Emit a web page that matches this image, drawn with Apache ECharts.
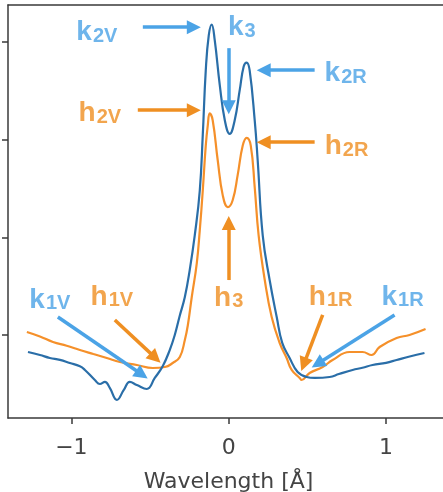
<!DOCTYPE html>
<html>
<head>
<meta charset="utf-8">
<script src="https://cdn.jsdelivr.net/npm/echarts@6/dist/echarts.min.js"></script>
<style>
  html, body { margin: 0; padding: 0; background: #fff; overflow: hidden; }
  #chart { width: 443px; height: 492px; }
</style>
</head>
<body>
<div id="chart"></div>
<script>
// Ca II k line profile (wavelength offset in Å, intensity in arbitrary units)
const kWavelength = [-1.276, -1.200, -1.137, -1.073, -1.010, -0.946, -0.914, -0.851, -0.819, -0.787,
  -0.756, -0.711, -0.667, -0.629, -0.584, -0.521, -0.470, -0.419, -0.375, -0.343,
  -0.311, -0.279, -0.248, -0.216, -0.184, -0.165, -0.146, -0.127, -0.108, -0.089,
  -0.057, -0.025, 0.006, 0.038, 0.070, 0.095, 0.114, 0.133, 0.165, 0.184,
  0.216, 0.260, 0.305, 0.340, 0.387, 0.438, 0.495, 0.546, 0.641, 0.700,
  0.787, 0.850, 0.914, 1.000, 1.067, 1.150, 1.244];
const kIntensity = [0.826, 0.795, 0.765, 0.745, 0.713, 0.680, 0.642, 0.539, 0.498, 0.519,
  0.458, 0.335, 0.437, 0.519, 0.488, 0.447, 0.560, 0.683, 0.846, 1.000,
  1.200, 1.389, 1.665, 2.020, 2.480, 3.050, 3.710, 4.070, 4.180, 4.020,
  3.560, 3.200, 3.060, 3.200, 3.510, 3.750, 3.790, 3.710, 3.200, 2.790,
  2.020, 1.563, 1.184, 0.920, 0.765, 0.621, 0.570, 0.560, 0.570, 0.600,
  0.642, 0.665, 0.693, 0.715, 0.744, 0.780, 0.816];

// Ca II h line profile
const hWavelength = [-1.283, -1.200, -1.117, -1.030, -0.946, -0.860, -0.775, -0.692, -0.584, -0.483,
  -0.406, -0.356, -0.311, -0.279, -0.260, -0.235, -0.203, -0.184, -0.165, -0.146,
  -0.133, -0.121, -0.102, -0.070, -0.038, -0.006, 0.025, 0.057, 0.089, 0.114,
  0.140, 0.165, 0.190, 0.229, 0.273, 0.324, 0.368, 0.400, 0.451, 0.463,
  0.514, 0.597, 0.660, 0.768, 0.851, 0.908, 0.959, 1.067, 1.149, 1.251];
const hIntensity = [1.031, 0.985, 0.928, 0.890, 0.846, 0.805, 0.765, 0.724, 0.693, 0.662,
  0.672, 0.713, 0.775, 0.949, 1.100, 1.389, 1.737, 2.075, 2.480, 2.940,
  3.150, 3.270, 3.200, 2.790, 2.430, 2.310, 2.380, 2.640, 2.940, 3.020,
  2.940, 2.515, 2.020, 1.563, 1.184, 0.918, 0.765, 0.642, 0.560, 0.539,
  0.611, 0.672, 0.744, 0.826, 0.826, 0.795, 0.877, 0.969, 1.000, 1.061];

// Axis ticks
const xTicks = [-1, 0, 1];
const yTicks = [1, 2, 3, 4];

// Feature annotations: label name, subscript, label anchor, arrow tail, arrow head
const kNotes = [
  { main: 'k', sub: '2V', at: [-0.838, 4.10], from: [-0.546, 4.153], to: [-0.222, 4.153] },
  { main: 'k', sub: '3',  at: [0.083, 4.15],  from: [0.0, 3.938],    to: [0.0, 3.334] },
  { main: 'k', sub: '2R', at: [0.743, 3.68],  from: [0.546, 3.712],  to: [0.222, 3.712] },
  { main: 'k', sub: '1V', at: [-1.137, 1.36], from: [-1.086, 1.184], to: [-0.552, 0.595] },
  { main: 'k', sub: '1R', at: [1.105, 1.39],  from: [1.054, 1.205],  to: [0.565, 0.705] }
];
const hNotes = [
  { main: 'h', sub: '2V', at: [-0.819, 3.27], from: [-0.578, 3.303], to: [-0.222, 3.303] },
  { main: 'h', sub: '2R', at: [0.749, 2.93],  from: [0.546, 2.975],  to: [0.222, 2.975] },
  { main: 'h', sub: '3',  at: [0.0, 1.38],    from: [0.0, 1.563],    to: [0.0, 2.146] },
  { main: 'h', sub: '1V', at: [-0.743, 1.39], from: [-0.724, 1.154], to: [-0.466, 0.766] },
  { main: 'h', sub: '1R', at: [0.648, 1.39],  from: [0.597, 1.205],  to: [0.477, 0.699] }
];

const K_LINE = '#2a6ea8';
const H_LINE = '#f5902a';
const K_NOTE = '#4ba3e6';
const H_NOTE = '#ef8f22';
const NOTE_FONT = '"Liberation Sans", Arial, sans-serif';
const AXIS_COLOR = '#3a3a3a';

const zip = (xs, ys) => xs.map((x, i) => [x, ys[i]]);

function noteSeries(notes, color) {
  return {
    type: 'scatter',
    silent: true,
    symbolSize: 0,
    z: 5,
    data: notes.map(n => ({ value: n.at, main: n.main, sub: n.sub })),
    label: {
      show: true,
      position: 'inside',
      align: 'center',
      verticalAlign: 'middle',
      formatter: p => '{m|' + p.data.main + '}{s|' + p.data.sub + '}',
      rich: {
        m: { fontFamily: NOTE_FONT, fontWeight: 'bold', fontSize: 28, color: color, verticalAlign: 'bottom' },
        s: { fontFamily: NOTE_FONT, fontWeight: 'bold', fontSize: 20, color: color, verticalAlign: 'bottom', padding: [0, 0, 0, 1] }
      }
    },
    markLine: {
      silent: true,
      animation: false,
      symbol: ['none', 'triangle'],
      symbolSize: 14,
      label: { show: false },
      emphasis: { disabled: true },
      lineStyle: { color: color, width: 3.5, type: 'solid' },
      data: notes.map(n => [{ coord: n.from }, { coord: n.to }])
    }
  };
}

const chart = echarts.init(document.getElementById('chart'), null, { renderer: 'canvas' });

const axisLine = { show: true, onZero: false, lineStyle: { color: AXIS_COLOR, width: 1.5 } };

chart.setOption({
  animation: false,
  backgroundColor: '#ffffff',
  grid: {
    left: 8, top: 5, right: -6, bottom: 74,
    show: false,
    containLabel: false,
    outerBoundsMode: 'none'
  },
  xAxis: [
    {
      type: 'value',
      min: -1.403,
      max: 1.40,
      name: 'Wavelength [Å]',
      nameLocation: 'middle',
      nameGap: 53,
      nameTextStyle: { fontFamily: 'DejaVu Sans', fontSize: 22, color: '#444' },
      axisLine: axisLine,
      axisTick: { show: true, inside: false, length: 6, lineStyle: { color: AXIS_COLOR, width: 1.5 }, customValues: xTicks },
      axisLabel: {
        show: true, margin: 19, fontFamily: 'DejaVu Sans', fontSize: 22, color: '#444',
        customValues: xTicks,
        formatter: v => (v < 0 ? '\u2212' + Math.abs(v) : String(v))
      },
      splitLine: { show: false }
    },
    {
      // top frame edge
      type: 'value',
      position: 'top',
      min: -1.403,
      max: 1.40,
      axisLine: axisLine,
      axisTick: { show: false },
      axisLabel: { show: false },
      splitLine: { show: false }
    }
  ],
  yAxis: {
    type: 'value',
    min: 0.15,
    max: 4.38,
    axisLine: axisLine,
    axisTick: { show: true, inside: false, length: 6, lineStyle: { color: AXIS_COLOR, width: 1.5 }, customValues: yTicks },
    axisLabel: { show: false },
    splitLine: { show: false }
  },
  series: [
    {
      name: 'Ca II k',
      type: 'line',
      data: zip(kWavelength, kIntensity),
      showSymbol: false,
      smooth: 0.45,
      lineStyle: { color: K_LINE, width: 2.2 },
      z: 3
    },
    {
      name: 'Ca II h',
      type: 'line',
      data: zip(hWavelength, hIntensity),
      showSymbol: false,
      smooth: 0.45,
      lineStyle: { color: H_LINE, width: 2.2 },
      z: 2
    },
    noteSeries(kNotes, K_NOTE),
    noteSeries(hNotes, H_NOTE)
  ]
});
</script>
</body>
</html>
